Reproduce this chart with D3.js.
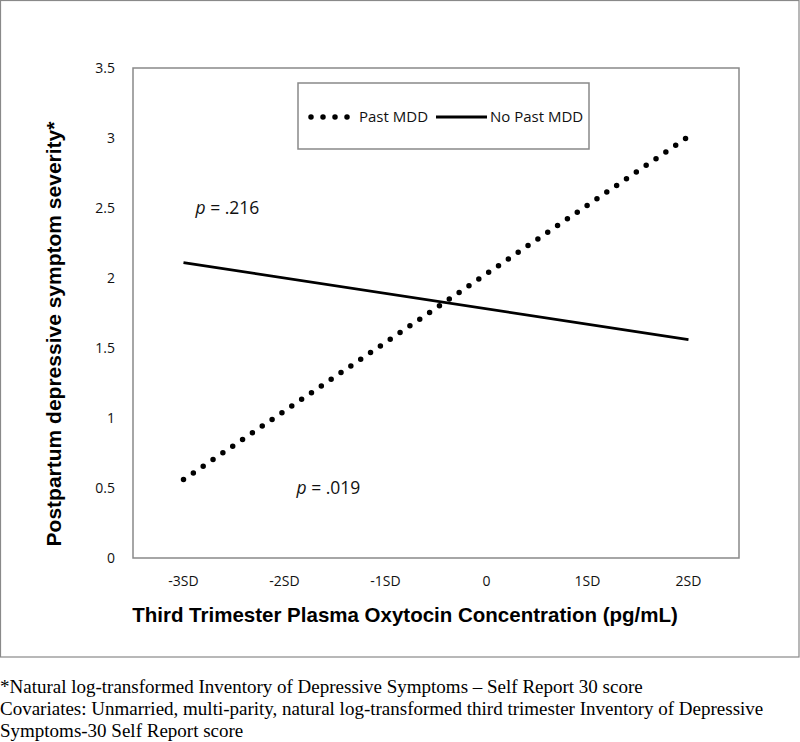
<!DOCTYPE html>
<html>
<head>
<meta charset="utf-8">
<script src="https://cdn.jsdelivr.net/npm/d3@7"></script>
<style>
  html, body { margin: 0; padding: 0; background: #fff; }
  svg { display: block; }
</style>
</head>
<body>
<svg id="chart" width="800" height="742"></svg>
<script>
// ---- data ----
const categories = ["-3SD", "-2SD", "-1SD", "0", "1SD", "2SD"];
const seriesNames = ["Past MDD", "No Past MDD"];
// values only known at the ends (-3SD and 2SD)
const pastMDD = [{cat: "-3SD", v: 0.56}, {cat: "2SD", v: 3.01}];
const noPastMDD = [{cat: "-3SD", v: 2.11}, {cat: "2SD", v: 1.56}];
const yTicks = [0, 0.5, 1, 1.5, 2, 2.5, 3, 3.5];
const pLabels = [{text: ".216", cat: "-3SD", v: 2.5}, {text: ".019", cat: "-2SD", v: 0.5}];
const footnotes = [
  "*Natural log-transformed Inventory of Depressive Symptoms \u2013 Self Report 30 score",
  "Covariates: Unmarried, multi-parity, natural log-transformed third trimester Inventory of Depressive",
  "Symptoms-30 Self Report score"
];

const svg = d3.select("#chart");
const axisGrey = "#898989";
const sansFont = "'Open Sans', sans-serif";
const boldFont = "'Liberation Sans', Arial, sans-serif";

// outer frame
svg.append("rect").attr("x", 0.5).attr("y", 0.5).attr("width", 798.5).attr("height", 656.5)
  .attr("fill", "none").attr("stroke", axisGrey).attr("stroke-width", 1.2);

const plot = {left: 133, right: 739, top: 68, bottom: 558};

const x = d3.scaleBand().domain(categories).range([plot.left, plot.right]).padding(0);
const xc = c => x(c) + x.bandwidth() / 2;
const y = d3.scaleLinear().domain([0, 3.5]).range([plot.bottom, plot.top]);

// plot frame
svg.append("rect").attr("x", plot.left).attr("y", plot.top)
  .attr("width", plot.right - plot.left).attr("height", plot.bottom - plot.top)
  .attr("fill", "none").attr("stroke", axisGrey).attr("stroke-width", 1.5);

// y axis labels
const yAxis = d3.axisLeft(y).tickValues(yTicks).tickSize(0).tickPadding(18)
  .tickFormat(d => String(d));
const gy = svg.append("g").attr("transform", `translate(${plot.left},0)`).call(yAxis);
gy.select(".domain").remove();
gy.selectAll("text").attr("font-family", sansFont).attr("font-size", 14).attr("fill", "#111");

// x axis labels
const xAxis = d3.axisBottom(x).tickSize(0).tickPadding(18);
const gx = svg.append("g").attr("transform", `translate(0,${plot.bottom})`).call(xAxis);
gx.select(".domain").remove();
gx.selectAll("text").attr("font-family", sansFont).attr("font-size", 14).attr("fill", "#111");

// lines
const line = d3.line().x(d => xc(d.cat)).y(d => y(d.v));
svg.append("path").datum(noPastMDD).attr("d", line)
  .attr("fill", "none").attr("stroke", "#000").attr("stroke-width", 2.8);
svg.append("path").datum(pastMDD).attr("d", line)
  .attr("fill", "none").attr("stroke", "#000").attr("stroke-width", 5.5)
  .attr("stroke-linecap", "round").attr("stroke-dasharray", "0 11.9");

// p labels
pLabels.forEach(p => {
  const t = svg.append("text")
    .attr("x", xc(p.cat) + 12).attr("y", y(p.v) + 6)
    .attr("font-family", sansFont).attr("font-size", 17.5).attr("fill", "#111");
  t.append("tspan").attr("font-style", "italic").text("p");
  t.append("tspan").text(" = " + p.text);
});

// legend
const leg = svg.append("g");
leg.append("rect").attr("x", 298).attr("y", 83).attr("width", 291).attr("height", 66)
  .attr("fill", "#fff").attr("stroke", axisGrey).attr("stroke-width", 1.5);
leg.append("line").attr("x1", 311).attr("x2", 348).attr("y1", 117).attr("y2", 117)
  .attr("stroke", "#000").attr("stroke-width", 5.5).attr("stroke-linecap", "round")
  .attr("stroke-dasharray", "0 12");
leg.append("text").attr("x", 359).attr("y", 122).attr("font-family", sansFont)
  .attr("font-size", 15).attr("fill", "#111").text(seriesNames[0]);
leg.append("line").attr("x1", 436).attr("x2", 487).attr("y1", 117).attr("y2", 117)
  .attr("stroke", "#000").attr("stroke-width", 2.8);
leg.append("text").attr("x", 490).attr("y", 122).attr("font-family", sansFont)
  .attr("font-size", 15).attr("fill", "#111").text(seriesNames[1]);

// axis titles
svg.append("text").attr("x", 405).attr("y", 622).attr("text-anchor", "middle")
  .attr("font-family", boldFont).attr("font-weight", "bold").attr("font-size", 20.5)
  .attr("fill", "#000").text("Third Trimester Plasma Oxytocin Concentration (pg/mL)");
svg.append("text").attr("transform", "translate(61,334) rotate(-90)").attr("text-anchor", "middle")
  .attr("font-family", boldFont).attr("font-weight", "bold").attr("font-size", 21)
  .attr("fill", "#000").text("Postpartum depressive symptom severity*");

// footnotes
svg.append("g").selectAll("text").data(footnotes).join("text")
  .attr("x", 0).attr("y", (d, i) => 693 + i * 22)
  .attr("font-family", "'Liberation Serif', 'Times New Roman', serif")
  .attr("font-size", 19).attr("fill", "#000").text(d => d);
</script>
</body>
</html>
